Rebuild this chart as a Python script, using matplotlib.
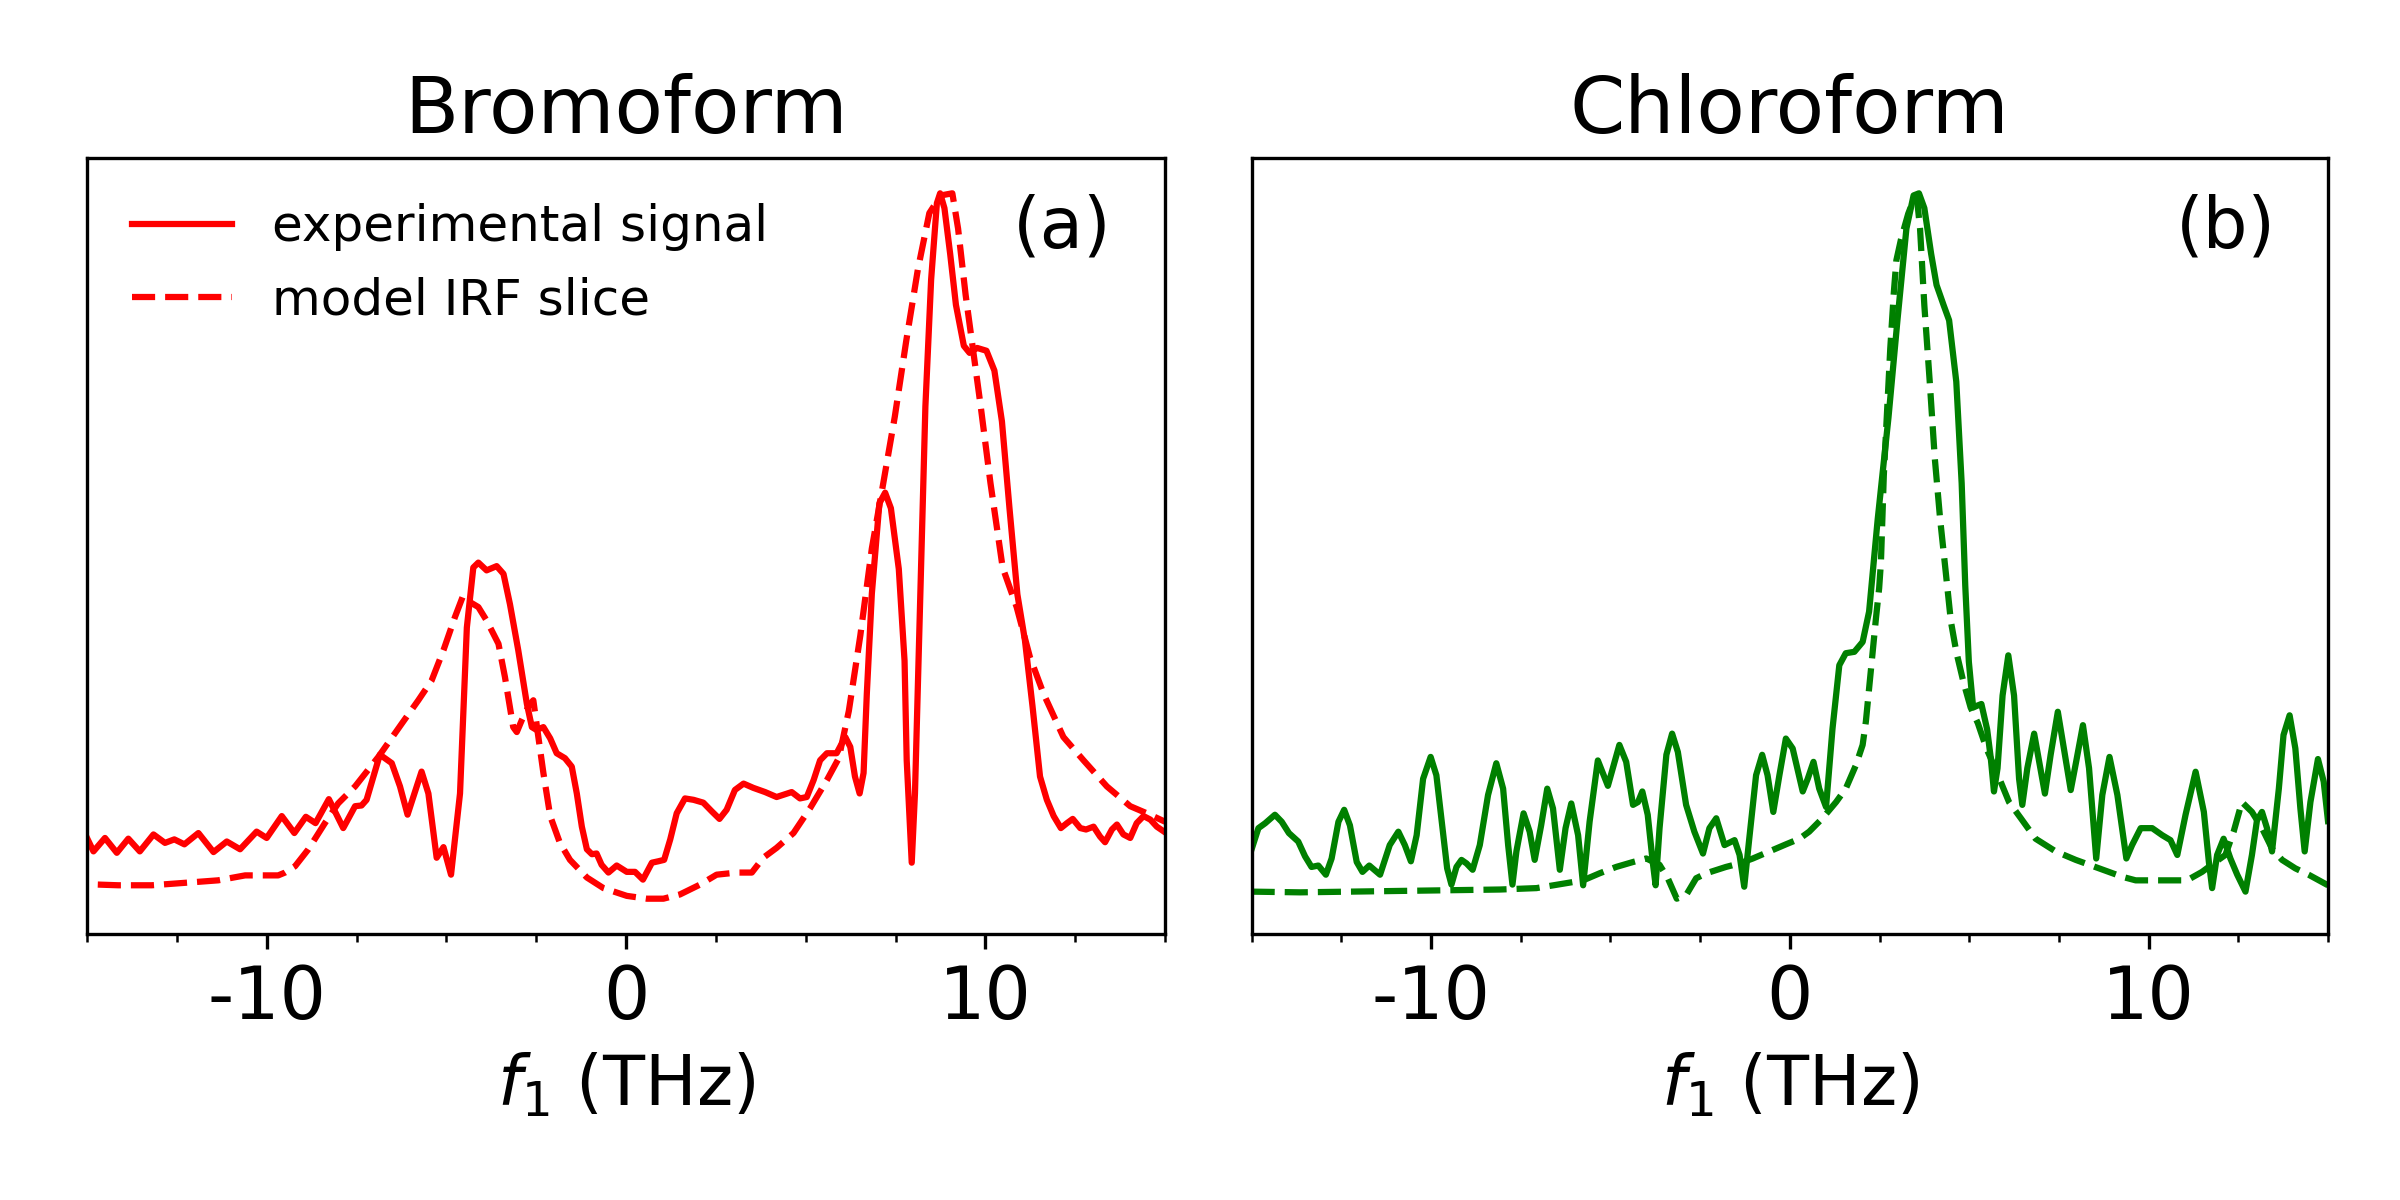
import matplotlib
matplotlib.use("Agg")
import matplotlib.pyplot as plt
from matplotlib.ticker import MultipleLocator

plt.rcParams['axes.unicode_minus'] = False

# Bromoform - experimental signal
bromo_exp_x = [-15.00, -14.82, -14.50, -14.17, -13.85, -13.53, -13.15, -12.83, -12.57, -12.29,
               -11.90, -11.48, -11.11, -10.74, -10.28, -10.00, -9.58, -9.23, -8.91, -8.64,
               -8.27, -7.87, -7.54, -7.36, -7.22, -6.85, -6.52, -6.29, -6.08, -5.69,
               -5.50, -5.27, -5.08, -4.87, -4.62, -4.43, -4.25, -4.11, -3.88, -3.60,
               -3.41, -3.23, -3.00, -2.76, -2.62, -2.49, -2.30, -2.11, -1.93, -1.70,
               -1.51, -1.37, -1.23, -1.09, -0.95, -0.82, -0.68, -0.49, -0.26, 0.02,
               0.25, 0.47, 0.72, 0.90, 1.06, 1.23, 1.41, 1.64, 1.88, 2.15,
               2.38, 2.60, 2.80, 3.03, 3.27, 3.54, 3.87, 4.19, 4.61, 4.84,
               5.03, 5.22, 5.40, 5.59, 5.86, 6.10, 6.24, 6.37, 6.50, 6.61,
               6.70, 6.84, 7.05, 7.21, 7.37, 7.59, 7.75, 7.81, 7.95, 8.04,
               8.14, 8.33, 8.49, 8.65, 8.74, 8.86, 9.02, 9.18, 9.40, 9.56,
               9.77, 10.03, 10.25, 10.46, 10.67, 10.89, 11.10, 11.31, 11.52, 11.71,
               11.90, 12.10, 12.27, 12.43, 12.64, 12.80, 13.01, 13.19, 13.33, 13.52,
               13.66, 13.84, 14.03, 14.21, 14.40, 14.59, 14.77, 15.00]
bromo_exp_y = [8.7, 6.8, 8.7, 6.6, 8.6, 6.8, 9.2, 8.0, 8.5, 7.8,
               9.4, 6.7, 8.2, 7.1, 9.6, 8.7, 11.8, 9.4, 11.7, 10.8,
               14.2, 10.1, 13.2, 13.3, 14.1, 20.5, 19.3, 16.0, 12.0, 18.1,
               15.0, 5.9, 7.4, 3.5, 15.0, 38.5, 47.0, 47.7, 46.6, 47.2,
               46.1, 41.8, 35.3, 27.7, 24.4, 24.0, 24.4, 22.8, 20.7, 20.0,
               18.8, 15.0, 10.3, 7.1, 6.4, 6.5, 4.9, 3.8, 4.8, 3.9,
               3.9, 2.8, 5.2, 5.4, 5.6, 8.5, 12.2, 14.3, 14.1, 13.7,
               12.5, 11.4, 12.7, 15.5, 16.4, 15.8, 15.2, 14.5, 15.2, 14.3,
               14.5, 16.9, 19.7, 20.7, 20.7, 23.0, 21.6, 17.4, 15.0, 17.9,
               29.1, 43.3, 56.1, 57.6, 55.4, 46.8, 33.8, 19.7, 5.2, 15.0,
               33.9, 69.8, 87.8, 98.6, 100.0, 97.9, 91.4, 84.2, 78.4, 77.4,
               78.1, 77.7, 74.9, 67.7, 55.4, 43.2, 36.7, 27.4, 17.4, 14.1,
               11.8, 10.1, 10.8, 11.4, 10.1, 9.9, 10.3, 8.9, 8.1, 9.9,
               10.6, 9.2, 8.7, 10.8, 11.8, 11.3, 10.3, 9.5]

# Bromoform - model IRF slice
bromo_irf_x = [-14.70, -14.13, -13.20, -12.27, -11.35, -10.60, -9.68, -9.49, -9.21, -8.84,
               -8.38, -8.01, -7.54, -6.89, -6.24, -5.78, -5.41, -5.08, -4.76, -4.55,
               -4.34, -4.11, -3.88, -3.55, -3.37, -3.14, -3.04, -2.90, -2.70, -2.58,
               -2.44, -2.30, -2.11, -1.84, -1.56, -1.09, -0.63, 0.02, 0.58, 1.04,
               1.50, 2.06, 2.52, 3.08, 3.50, 3.82, 4.19, 4.66, 5.12, 5.59,
               5.92, 6.20, 6.52, 6.84, 7.16, 7.48, 7.80, 8.12, 8.44, 8.76,
               9.08, 9.24, 9.45, 9.66, 9.87, 10.14, 10.48, 10.87, 11.24, 11.62,
               12.17, 12.73, 13.38, 14.03, 14.49, 15.00]
bromo_irf_y = [2.1, 2.0, 2.0, 2.35, 2.7, 3.4, 3.4, 3.8, 4.7, 7.1,
               10.8, 13.6, 16.0, 20.2, 24.9, 28.2, 31.0, 35.3, 40.0, 42.8,
               42.1, 41.4, 39.5, 36.2, 31.5, 24.4, 23.7, 25.4, 27.5, 28.2,
               23.0, 17.9, 11.8, 8.0, 5.6, 3.1, 1.6, 0.5, 0.1, 0.1,
               0.7, 2.1, 3.5, 3.8, 3.8, 5.9, 7.3, 9.4, 12.9, 16.9,
               20.0, 26.7, 37.4, 49.7, 59.0, 68.4, 79.2, 89.2, 97.2, 99.7,
               100.0, 95.0, 85.6, 77.7, 69.8, 59.0, 47.0, 41.4, 34.3, 29.1,
               23.0, 19.7, 16.0, 13.2, 12.2, 11.0]

# Chloroform - experimental signal
chloro_exp_x = [-15.00, -14.81, -14.62, -14.35, -14.16, -13.96, -13.70, -13.51, -13.33, -13.14,
                -12.93, -12.77, -12.58, -12.42, -12.26, -12.07, -11.91, -11.72, -11.42, -11.15,
                -10.91, -10.73, -10.56, -10.40, -10.22, -10.01, -9.85, -9.68, -9.55, -9.43,
                -9.29, -9.15, -9.01, -8.84, -8.64, -8.41, -8.18, -7.99, -7.85, -7.73,
                -7.62, -7.42, -7.25, -7.11, -6.93, -6.76, -6.60, -6.41, -6.25, -6.09,
                -5.90, -5.76, -5.58, -5.35, -5.07, -4.75, -4.56, -4.37, -4.23, -4.11,
                -3.96, -3.82, -3.74, -3.63, -3.44, -3.28, -3.12, -2.89, -2.66, -2.42,
                -2.24, -2.05, -1.82, -1.54, -1.40, -1.27, -1.13, -0.94, -0.77, -0.62,
                -0.46, -0.29, -0.11, 0.08, 0.36, 0.50, 0.66, 0.82, 1.01, 1.19,
                1.38, 1.56, 1.80, 2.03, 2.21, 2.45, 2.75, 3.00, 3.25, 3.45,
                3.60, 3.75, 3.94, 4.09, 4.29, 4.44, 4.64, 4.79, 4.89, 4.99,
                5.11, 5.24, 5.34, 5.50, 5.60, 5.69, 5.79, 5.93, 6.09, 6.25,
                6.39, 6.48, 6.62, 6.81, 6.95, 7.11, 7.27, 7.47, 7.64, 7.83,
                7.98, 8.17, 8.34, 8.54, 8.71, 8.91, 9.13, 9.38, 9.54, 9.78,
                10.10, 10.38, 10.61, 10.80, 11.03, 11.31, 11.54, 11.68, 11.77, 11.91,
                12.09, 12.28, 12.47, 12.70, 12.88, 13.02, 13.16, 13.30, 13.44, 13.63,
                13.76, 13.93, 14.09, 14.23, 14.35, 14.51, 14.72, 14.88, 15.00]
chloro_exp_y = [7.0, 10.0, 10.7, 11.9, 10.9, 9.3, 8.1, 6.0, 4.5, 4.7,
                3.4, 5.7, 10.9, 12.6, 10.4, 5.2, 3.8, 4.7, 3.4, 7.6,
                9.5, 7.6, 5.3, 9.0, 17.0, 20.1, 17.5, 10.0, 4.3, 2.0,
                4.5, 5.5, 5.0, 4.1, 7.6, 14.7, 19.2, 15.6, 7.6, 2.0,
                6.7, 12.1, 9.5, 5.5, 10.4, 15.6, 12.8, 4.1, 10.0, 13.5,
                9.0, 1.9, 10.9, 19.6, 16.0, 21.8, 19.4, 13.3, 13.7, 15.2,
                11.9, 5.2, 1.9, 10.0, 20.4, 23.4, 20.8, 13.3, 9.5, 6.4,
                10.0, 11.4, 7.6, 8.3, 6.2, 1.7, 8.5, 17.5, 20.4, 17.5,
                12.3, 17.5, 22.7, 21.3, 15.2, 17.0, 19.4, 15.6, 13.0, 24.1,
                33.1, 34.8, 35.0, 36.4, 40.7, 53.8, 68.2, 82.0, 95.0, 99.7,
                100.0, 97.9, 91.4, 87.0, 84.1, 82.0, 73.3, 58.9, 44.4, 33.6,
                27.1, 27.4, 27.6, 24.0, 20.0, 15.2, 18.5, 28.8, 34.5, 28.8,
                17.0, 13.3, 18.5, 23.4, 19.4, 14.9, 20.4, 26.5, 21.3, 15.4,
                19.4, 24.6, 18.5, 5.7, 14.7, 20.1, 14.7, 5.7, 7.6, 10.0,
                10.0, 9.0, 8.3, 6.2, 11.9, 18.0, 12.3, 5.2, 1.5, 6.2,
                8.5, 5.7, 3.4, 1.0, 6.2, 11.1, 12.3, 10.0, 6.7, 15.6,
                23.2, 26.0, 21.3, 12.8, 6.7, 13.7, 19.8, 16.6, 11.0]

# Chloroform - model IRF slice
chloro_irf_x = [-15.00, -13.65, -12.26, -10.87, -9.48, -8.08, -7.06, -6.23, -5.76, -5.30,
                -4.84, -4.37, -4.00, -3.63, -3.40, -3.15, -2.89, -2.61, -2.33, -1.78,
                -1.40, -1.03, -0.57, -0.11, 0.27, 0.54, 0.91, 1.29, 1.56, 1.84,
                2.03, 2.12, 2.21, 2.31, 2.40, 2.49, 2.54, 2.62, 2.72, 2.80,
                2.90, 2.97, 3.10, 3.30, 3.48, 3.56, 3.63, 3.75, 3.90, 4.04,
                4.19, 4.34, 4.49, 4.64, 4.84, 5.04, 5.24, 5.48, 5.73, 6.11,
                6.44, 6.85, 7.41, 7.97, 8.62, 9.27, 9.64, 10.38, 11.07, 11.49,
                11.86, 12.14, 12.37, 12.60, 12.88, 13.16, 13.44, 13.72, 14.09, 14.46,
                15.00]
chloro_irf_y = [1.0, 0.9, 1.0, 1.1, 1.2, 1.3, 1.5, 2.2, 2.6, 3.6,
                4.5, 5.2, 5.7, 4.8, 2.9, 0.0, 0.5, 2.9, 3.6, 4.5,
                5.0, 5.7, 6.7, 7.7, 8.5, 9.5, 11.4, 13.7, 15.6, 18.9,
                21.8, 25.1, 29.8, 35.0, 39.7, 44.0, 47.7, 60.0, 70.0, 78.0,
                86.0, 90.5, 93.5, 97.1, 99.5, 98.5, 95.0, 84.1, 73.3, 62.5,
                53.8, 46.6, 39.3, 35.0, 30.7, 27.1, 24.9, 21.3, 18.4, 13.7,
                11.4, 8.5, 6.7, 5.5, 4.3, 3.1, 2.6, 2.6, 2.6, 3.8,
                5.2, 6.2, 9.5, 13.7, 12.3, 10.0, 7.1, 5.5, 4.3, 3.4,
                1.9]

titles = ["Bromoform", "Chloroform"]
panel_tags = ["(a)", "(b)"]

fig = plt.figure(figsize=(8, 4), dpi=300)
ax1 = fig.add_axes([0.03625, 0.2217, 0.4492, 0.6466])
ax2 = fig.add_axes([0.5215, 0.2217, 0.4485, 0.6466])

ax1.plot(bromo_exp_x, bromo_exp_y, color='red', lw=1.5, label='experimental signal')
ax1.plot(bromo_irf_x, bromo_irf_y, color='red', lw=1.5, ls='--', label='model IRF slice')
ax2.plot(chloro_exp_x, chloro_exp_y, color='green', lw=1.5)
ax2.plot(chloro_irf_x, chloro_irf_y, color='green', lw=1.5, ls='--')

for ax, t, tag in zip([ax1, ax2], titles, panel_tags):
    ax.set_xlim(-15, 15)
    ax.set_yticks([])
    ax.xaxis.set_major_locator(MultipleLocator(10))
    ax.xaxis.set_minor_locator(MultipleLocator(2.5))
    ax.tick_params(axis='x', labelsize=17.5)
    ax.set_xlabel('$f_1$ (THz)', fontsize=16.5)
    ax.set_title(t, fontsize=19)
    ax.text(0.905, 0.91, tag, transform=ax.transAxes, ha='center', va='center', fontsize=17)

ax1.legend(loc='upper left', frameon=False, fontsize=12)

plt.savefig("out.png", dpi=300)
